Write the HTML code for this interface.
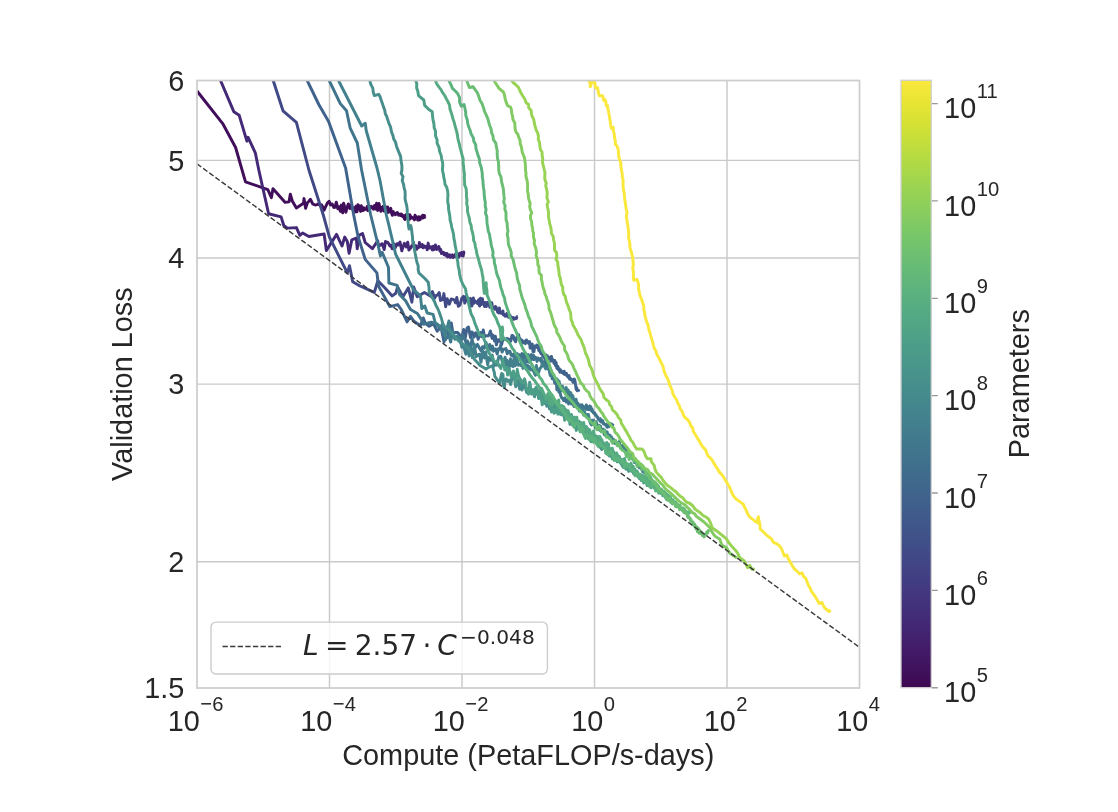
<!DOCTYPE html>
<html><head><meta charset="utf-8"><title>Validation Loss vs Compute</title>
<style>html,body{margin:0;padding:0;background:#fff;}svg{display:block;}text{font-family:"Liberation Sans",sans-serif;fill:#262626;}.m{font-family:"DejaVu Sans",sans-serif;}</style></head><body>
<svg width="1118" height="812" viewBox="0 0 1118 812">
<rect width="1118" height="812" fill="#fff"/>
<defs><clipPath id="ax"><rect x="197.0" y="80.5" width="662.5" height="607.5"/></clipPath>
<linearGradient id="cb" x1="0" y1="0" x2="0" y2="1"><stop offset="0.0000" stop-color="#fae83d"/><stop offset="0.0156" stop-color="#f3e739"/><stop offset="0.0312" stop-color="#ebe535"/><stop offset="0.0469" stop-color="#e2e433"/><stop offset="0.0625" stop-color="#dae234"/><stop offset="0.0781" stop-color="#d1e036"/><stop offset="0.0938" stop-color="#c8df39"/><stop offset="0.1094" stop-color="#bfdd3d"/><stop offset="0.1250" stop-color="#b7db42"/><stop offset="0.1406" stop-color="#aed946"/><stop offset="0.1562" stop-color="#a6d74b"/><stop offset="0.1719" stop-color="#9ed450"/><stop offset="0.1875" stop-color="#96d255"/><stop offset="0.2031" stop-color="#8fcf5a"/><stop offset="0.2188" stop-color="#88cd5f"/><stop offset="0.2344" stop-color="#81ca63"/><stop offset="0.2500" stop-color="#7ac768"/><stop offset="0.2656" stop-color="#74c46c"/><stop offset="0.2812" stop-color="#6fc070"/><stop offset="0.2969" stop-color="#6abd73"/><stop offset="0.3125" stop-color="#65ba77"/><stop offset="0.3281" stop-color="#61b67a"/><stop offset="0.3438" stop-color="#5db37d"/><stop offset="0.3594" stop-color="#59af7f"/><stop offset="0.3750" stop-color="#56ac82"/><stop offset="0.3906" stop-color="#53a884"/><stop offset="0.4062" stop-color="#51a585"/><stop offset="0.4219" stop-color="#4ea187"/><stop offset="0.4375" stop-color="#4c9d88"/><stop offset="0.4531" stop-color="#4b9a8a"/><stop offset="0.4688" stop-color="#49968b"/><stop offset="0.4844" stop-color="#48928b"/><stop offset="0.5000" stop-color="#468e8c"/><stop offset="0.5156" stop-color="#458b8c"/><stop offset="0.5312" stop-color="#44878d"/><stop offset="0.5469" stop-color="#43838d"/><stop offset="0.5625" stop-color="#42808d"/><stop offset="0.5781" stop-color="#427c8d"/><stop offset="0.5938" stop-color="#41788d"/><stop offset="0.6094" stop-color="#40758d"/><stop offset="0.6250" stop-color="#40718d"/><stop offset="0.6406" stop-color="#3f6d8d"/><stop offset="0.6562" stop-color="#3f698c"/><stop offset="0.6719" stop-color="#3f668c"/><stop offset="0.6875" stop-color="#3f628c"/><stop offset="0.7031" stop-color="#3f5e8b"/><stop offset="0.7188" stop-color="#3f5a8b"/><stop offset="0.7344" stop-color="#3f568a"/><stop offset="0.7500" stop-color="#405289"/><stop offset="0.7656" stop-color="#404d88"/><stop offset="0.7812" stop-color="#414987"/><stop offset="0.7969" stop-color="#414585"/><stop offset="0.8125" stop-color="#424084"/><stop offset="0.8281" stop-color="#423c82"/><stop offset="0.8438" stop-color="#43377f"/><stop offset="0.8594" stop-color="#43337c"/><stop offset="0.8750" stop-color="#432e79"/><stop offset="0.8906" stop-color="#432976"/><stop offset="0.9062" stop-color="#432572"/><stop offset="0.9219" stop-color="#43206d"/><stop offset="0.9375" stop-color="#421b68"/><stop offset="0.9531" stop-color="#411663"/><stop offset="0.9688" stop-color="#40125e"/><stop offset="0.9844" stop-color="#3f0d58"/><stop offset="1.0000" stop-color="#3e0852"/></linearGradient></defs>
<path d="M329.50 80.5 V688.0 M462.00 80.5 V688.0 M594.50 80.5 V688.0 M727.00 80.5 V688.0 M197.0 160.36 H859.5 M197.0 258.09 H859.5 M197.0 384.10 H859.5 M197.0 561.69 H859.5" stroke="#c9c9c9" stroke-width="1.45" fill="none"/>
<g clip-path="url(#ax)" fill="none" stroke-width="2.95" stroke-linejoin="round" stroke-linecap="butt">
<polyline points="197.0,91.0 223.1,124.2 235.6,147.5 245.5,181.8 267.8,189.6 271.4,197.6 273.0,188.7 285.0,202.3 289.0,201.9 290.3,194.3 292.4,201.2 296.4,208.0 303.5,203.3 304.0,198.6 305.6,208.3 307.5,202.6 308.7,201.5 310.5,199.3 312.7,203.9 315.1,205.0 316.9,204.6 318.5,203.9 319.8,205.3 321.5,204.8 323.1,207.8 324.1,210.2 325.3,207.4 327.3,203.1 329.1,201.3 330.5,204.9 332.1,204.0 333.9,207.5 335.0,207.4 336.3,202.2 337.9,208.8 339.2,206.8 340.4,211.4 341.3,205.1 342.7,212.8 343.6,203.2 344.9,207.6 345.9,212.2 347.1,207.3 348.4,203.9 349.9,208.5 351.3,205.0 352.4,209.2 353.9,207.8 355.0,212.1 356.0,206.2 357.0,211.7 357.9,204.7 359.2,206.3 360.6,211.4 361.3,205.8 361.9,209.2 363.0,210.6 363.7,207.7 364.5,209.7 365.5,208.7 366.4,209.2 367.1,206.5 367.9,210.6 369.1,207.1 370.2,208.5 371.3,206.4 372.6,207.3 373.5,209.1 374.5,205.5 375.5,209.1 376.6,203.3 377.7,210.4 378.5,205.5 379.0,203.5 380.2,208.5 380.8,211.3 381.7,207.5 382.4,209.5 383.0,206.5 383.9,210.9 385.0,209.3 385.4,206.5 386.4,213.2 387.0,207.5 387.7,207.1 388.6,212.2 389.5,210.9 390.0,210.4 390.8,208.4 391.5,212.9 392.3,215.3 393.3,211.6 393.7,212.9 394.6,213.8 395.4,214.8 396.0,213.4 396.6,212.9 397.3,212.5 398.2,213.9 398.6,215.2 399.5,214.3 400.0,214.2 400.5,215.6 401.3,214.0 402.2,214.9 402.8,216.8 403.5,216.1 403.9,215.7 404.5,218.9 404.9,219.5 405.3,216.1 406.0,214.7 406.7,217.9 407.4,217.2 407.9,216.6 408.5,219.8 409.0,214.8 409.5,219.3 410.0,214.9 410.6,218.4 411.0,216.8 411.4,218.0 412.0,217.2 412.8,218.1 413.3,218.2 413.7,218.8 414.5,219.9 415.0,215.3 415.5,217.3 415.9,216.4 416.6,217.4 417.3,217.7 417.7,220.0 418.1,217.2 418.5,216.8 419.2,220.0 419.7,217.0 420.1,219.6 420.6,217.2 421.0,217.9 421.4,218.0 421.9,216.6 422.2,217.9 422.7,215.3 423.3,217.9 423.8,216.8 424.4,215.6 425.0,217.1 425.3,216.8" stroke="#400e5a"/>
<polyline points="220.5,80.5 233.8,111.7 239.2,115.3 246.9,141.2 248.1,137.3 255.3,152.8 258.8,170.0 268.6,213.8 281.1,216.9 283.8,225.5 287.4,228.1 296.4,227.6 299.9,235.3 302.6,233.0 308.9,236.5 324.1,234.0 326.4,250.5 336.6,234.4 342.0,246.0 344.7,237.1 347.3,241.5 349.1,253.2 351.8,239.8 356.3,238.0 357.2,248.7 359.0,235.3 362.5,233.5 365.2,242.5 372.4,248.7 377.7,240.7 378.5,246.1 379.8,245.5 382.2,243.7 384.2,249.5 385.5,241.5 388.0,242.6 389.8,245.9 390.8,245.0 392.2,248.8 393.9,243.8 394.9,248.5 397.0,243.7 398.1,245.0 400.0,242.1 401.8,250.8 402.8,247.3 404.4,243.3 406.1,246.9 407.7,242.2 408.9,250.0 410.6,248.1 411.6,246.1 412.4,245.6 413.4,242.2 414.7,249.7 415.9,245.7 416.8,249.2 417.5,247.4 418.7,247.4 419.4,242.4 420.2,246.8 421.3,246.8 422.1,244.4 423.2,247.8 424.1,245.8 425.4,247.1 426.5,246.2 427.2,249.8 428.2,243.1 428.8,248.3 429.6,246.5 430.4,247.6 431.2,246.9 432.2,249.9 433.2,246.3 433.9,249.7 434.7,248.7 435.4,245.0 436.0,246.8 436.7,249.6 437.5,247.2 438.1,248.5 438.9,246.5 440.0,251.2 440.7,249.4 441.6,253.6 442.2,252.3 442.6,252.7 443.1,252.9 443.6,252.3 444.1,254.8 444.9,253.3 445.8,253.7 446.5,256.0 446.9,253.4 447.4,254.4 447.9,256.9 448.5,256.1 449.1,255.0 449.6,254.8 450.3,257.4 450.9,255.6 451.6,256.7 452.4,254.9 453.1,257.6 453.7,256.8 454.3,255.6 455.0,256.3 455.8,253.6 456.5,255.2 457.0,257.7 457.5,254.7 458.0,254.1 458.7,257.3 459.2,254.9 459.8,253.4 460.4,253.7 461.1,255.3 461.6,252.4 462.3,255.8 462.7,254.0 463.2,256.0 463.8,252.0 463.8,254.0" stroke="#432976"/>
<polyline points="273.2,80.5 283.0,110.8 296.4,122.4 308.9,170.0 323.3,215.0 329.4,237.1 347.3,272.9 349.5,265.7 352.7,281.8 360.0,286.0 374.3,292.4 377.9,280.7 385.0,288.0 392.2,295.9 395.8,293.3 397.6,287.0 402.9,296.8 408.3,287.9 411.9,302.2 413.7,287.0 417.2,296.8 424.4,292.4 431.6,296.8 432.5,291.6 434.7,298.2 435.9,295.6 437.4,295.1 439.2,292.6 440.5,300.4 442.8,299.4 443.9,293.6 445.7,306.7 447.2,298.8 449.3,304.2 451.2,299.0 453.2,299.4 454.3,300.1 455.6,302.8 456.8,297.5 458.3,306.3 460.0,304.8 461.8,298.2 463.5,296.4 464.8,303.1 466.1,296.6 466.8,300.2 468.2,301.6 469.0,300.8 469.7,306.2 470.4,298.4 471.9,306.0 473.4,297.9 474.0,303.2 475.0,300.9 476.3,302.0 477.6,303.7 478.6,299.8 479.6,306.0 480.5,298.2 481.6,304.6 482.5,298.8 483.0,303.2 484.0,302.7 484.6,306.5 485.3,302.5 486.3,306.6 487.5,302.5 488.3,304.8 488.9,302.2 489.8,307.2 490.3,302.4 491.2,306.1 491.8,302.7 492.5,307.7 493.2,307.8 493.9,308.0 494.7,309.2 495.4,306.5 496.0,306.9 496.9,309.6 497.6,312.2 498.2,309.1 498.8,312.9 499.4,308.0 499.9,312.9 500.8,313.2 501.7,312.2 502.2,313.5 502.9,310.9 503.4,314.9 503.9,314.2 504.3,314.7 505.2,316.3 505.8,314.5 506.3,315.6 506.9,313.5 507.4,316.1 508.2,315.7 508.6,317.3 509.4,315.9 510.1,315.2 510.4,317.4 510.9,317.2 511.5,319.5 511.8,317.7 512.2,319.9 512.9,317.5 513.4,319.3 514.0,318.3 514.5,319.0 515.0,318.1 515.5,318.6 516.1,318.6 516.5,318.2 517.0,316.7 517.5,317.0" stroke="#414987"/>
<polyline points="307.2,80.5 318.8,104.5 328.6,121.5 345.6,168.0 353.7,215.0 358.0,236.2 365.2,259.4 376.9,272.9 378.6,286.3 389.8,306.6 397.7,304.6 401.2,309.5 407.1,321.8 410.5,316.4 414.0,321.3 420.4,325.8 423.3,317.9 425.3,323.3 429.2,326.3 433.6,323.8 437.1,331.2 441.0,327.2 444.0,342.0 445.5,331.2 446.5,327.2 447.9,333.7 449.8,333.0 451.3,323.0 452.8,332.5 455.3,332.5 457.6,332.4 459.6,335.0 461.8,337.0 463.7,329.4 465.0,339.3 467.1,327.9 468.5,327.0 470.5,337.6 471.9,332.0 473.2,333.5 474.2,337.0 475.7,332.8 477.0,334.0 478.1,339.3 479.3,335.8 480.8,332.6 481.7,336.7 483.3,329.9 484.4,336.6 486.0,335.7 487.8,335.9 488.9,335.3 490.4,330.9 492.0,338.2 492.9,335.1 494.6,341.0 495.4,336.2 496.4,344.9 497.2,342.4 498.0,339.7 498.9,341.0 500.0,339.5 501.6,344.7 502.6,340.5 503.7,338.5 504.8,339.4 506.2,339.3 507.0,338.3 507.8,339.2 508.5,339.1 509.6,342.2 510.8,340.9 512.0,335.4 513.3,336.1 514.6,340.2 515.7,341.8 516.7,337.2 518.0,336.4 518.6,334.7 519.2,337.8 519.9,338.4 520.6,339.8 521.5,340.9 522.1,340.2 522.6,343.0 523.7,342.8 524.7,341.2 525.4,343.7 526.5,340.0 527.0,340.8 527.9,342.6 528.6,343.4 529.5,341.5 530.1,348.0 530.8,346.1 531.6,348.1 532.2,344.0 533.0,351.6 534.0,351.5 534.6,345.9 535.7,347.3 536.7,345.0 537.2,347.2 538.3,345.4 538.7,350.5 539.6,349.2 540.1,351.7 541.0,353.6 541.8,352.2 542.8,356.2 543.8,353.7 544.6,358.6 545.1,358.1 545.6,354.6 546.1,355.1 546.7,359.8 547.3,355.8 548.3,358.7 549.0,357.9 549.5,357.8 550.3,357.1 550.8,361.3 551.5,356.5 552.4,360.4 553.1,359.9 554.0,363.5 554.8,360.4 555.6,365.8 556.1,362.5 556.9,368.4 557.5,367.4 557.9,366.3 558.5,369.8 559.4,368.8 559.8,372.2 560.6,369.9 561.1,371.0 561.9,372.5 562.7,372.0 563.5,373.7 564.2,371.2 564.7,374.4 565.1,372.7 565.5,374.2 566.3,373.2 567.0,376.2 567.7,375.9 568.4,377.5 569.0,375.4 569.5,379.0 569.9,377.8 570.5,379.6 571.0,379.0 571.7,380.2 572.4,379.9 573.1,382.4 573.7,380.2 574.3,379.0 574.9,380.5 575.6,385.0 576.2,389.6 576.6,387.5 577.3,390.8 577.7,390.5 578.2,390.0 578.7,390.8 578.7,391.5" stroke="#3f638c"/>
<polyline points="329.2,80.5 340.3,103.6 346.5,110.8 350.1,127.8 357.3,143.0 361.6,170.0 370.7,215.0 377.7,243.3 380.4,255.9 382.2,252.3 388.5,267.5 388.9,283.0 397.2,285.4 399.7,294.8 405.6,300.7 410.5,309.5 417.4,313.5 421.3,319.4 423.3,324.3 431.2,322.3 435.1,323.3 439.0,327.2 440.0,328.6 442.7,323.5 445.3,340.0 447.5,336.6 448.8,335.0 450.7,342.0 452.2,330.2 453.5,333.6 454.8,338.1 457.1,338.6 458.4,336.9 460.8,342.9 462.7,335.0 465.0,339.7 466.4,343.7 467.4,340.9 469.2,345.2 470.5,347.4 472.1,338.4 473.0,344.3 474.0,345.0 475.9,346.8 477.5,344.4 479.5,348.2 481.2,351.1 482.5,346.7 484.2,348.2 486.1,342.5 487.9,351.2 489.7,344.5 491.5,350.1 492.5,346.1 493.5,351.2 494.3,349.2 495.6,348.9 497.2,354.1 498.4,348.8 499.7,349.3 500.5,345.5 502.1,352.1 503.2,349.5 504.4,349.3 505.9,348.5 507.3,353.8 508.3,351.2 509.9,351.3 511.1,355.0 512.1,355.8 513.5,354.0 514.8,360.4 516.1,355.1 517.2,353.6 518.4,360.1 519.6,354.7 520.7,357.8 522.0,353.6 523.3,359.5 524.6,353.2 525.9,354.3 527.2,361.9 528.2,354.5 529.2,362.3 530.4,360.6 531.4,354.5 532.3,359.2 533.4,354.9 534.1,359.7 535.2,357.1 535.8,358.7 536.4,357.8 537.1,361.4 537.9,358.0 538.9,358.7 539.8,359.1 540.6,361.0 541.2,358.2 541.8,362.5 543.0,364.5 543.8,363.9 544.4,361.2 545.3,360.6 546.1,363.8 546.6,367.8 547.2,364.0 548.3,368.2 549.0,369.0 549.8,372.6 550.4,373.1 551.3,370.7 552.1,378.7 552.9,375.4 553.5,377.0 554.6,382.7 555.6,383.8 556.3,381.7 556.9,389.8 557.7,385.6 558.2,387.5 558.9,392.0 559.7,391.5 560.4,394.1 561.0,396.3 562.0,398.4 562.9,398.5 563.7,400.6 564.7,398.0 565.3,399.5 566.3,402.1 567.2,399.7 568.1,401.0 568.6,404.0 569.2,401.6 570.0,401.3 570.8,402.3 571.6,404.0 572.6,400.8 573.1,403.2 574.0,406.5 574.5,403.4 575.2,405.0 575.7,404.0 576.3,405.2 576.7,405.0 577.2,407.9 577.8,403.1 578.4,406.1 579.1,404.7 580.0,407.5 580.7,405.1 581.5,406.8 582.0,404.8 582.4,408.3 583.2,406.4 583.6,407.3 584.1,408.1 584.9,406.8 585.6,409.2 586.3,405.0 586.8,406.0 587.2,409.6 587.7,406.5 588.3,409.2 588.7,409.1 589.3,409.7 589.9,405.9 590.5,409.2 590.8,406.7 591.4,408.8 591.8,411.3 592.3,409.5 592.7,411.8 593.3,412.8 593.7,412.2 594.2,413.7 594.7,412.7 595.5,415.2 596.2,415.0 596.8,416.6 597.5,417.6 597.8,417.0 598.2,419.2 598.7,418.6 599.1,419.2 599.6,420.4 600.3,418.7 600.7,421.9 601.3,420.0 602.1,422.3 602.6,420.7 603.1,421.9 603.5,424.1 603.8,423.1 604.3,424.1 605.1,424.4 605.6,425.4 606.0,425.3 606.6,424.4 607.0,427.3 607.5,425.2 608.1,425.3 608.8,426.8 609.2,424.7 609.6,425.3 610.1,423.5 610.4,425.5 611.0,424.1 611.3,424.9 611.7,424.0 612.1,424.6 612.6,425.1 612.9,423.7" stroke="#40748d"/>
<polyline points="338.5,80.5 361.7,126.0 365.3,123.3 366.2,130.5 377.0,168.0 380.0,180.5 386.3,215.0 388.5,223.7 395.6,254.1 408.5,280.0 413.5,289.8 420.4,295.7 421.8,308.5 424.8,306.0 427.2,313.0 433.1,314.4 435.1,322.3 441.0,327.2 445.0,336.0 448.9,321.0 450.0,333.0 451.0,338.6 452.6,331.9 454.9,339.3 457.2,336.0 459.6,337.3 461.8,347.3 463.7,346.1 465.8,354.2 467.4,344.7 469.1,356.0 470.5,346.3 472.4,357.8 474.3,344.1 476.1,356.6 478.1,354.6 479.5,354.2 481.0,362.2 482.6,350.7 484.5,358.1 485.6,352.0 487.7,364.7 488.7,357.5 490.7,360.3 492.2,355.1 494.3,365.9 495.7,363.2 496.9,365.1 498.8,356.6 500.7,356.2 502.4,361.8 503.4,362.0 505.1,357.2 506.0,365.4 507.1,360.3 509.0,369.0 510.5,358.7 511.8,365.8 513.0,366.6 514.1,357.7 515.3,365.7 516.4,358.3 518.2,365.2 519.0,363.9 520.6,365.5 522.1,359.6 522.9,368.4 524.6,360.3 526.2,369.3 527.4,365.2 528.7,369.0 529.6,366.6 530.9,369.9 532.5,369.4 534.0,371.9 535.3,375.3 536.4,365.5 537.8,374.5 538.9,371.5 540.0,368.3 541.4,367.0 542.3,362.8 543.3,364.4 544.3,366.3 545.7,368.9 546.8,368.0 547.5,367.1 548.8,369.9 549.5,368.5 550.2,375.5 550.9,371.5 552.0,375.6 552.9,374.7 553.9,376.9 555.0,380.2 556.0,378.5 557.1,378.8 558.1,383.7 559.1,381.1 560.5,388.0 561.6,390.8 562.5,386.1 563.5,389.3 564.2,389.6 565.3,392.4 566.2,387.5 566.9,394.1 568.2,389.9 569.4,396.4 570.4,392.5 571.0,393.2 572.1,399.3 572.9,395.7 573.6,399.6 574.3,405.4 575.0,402.3 576.1,399.2 577.2,405.2 578.0,405.2 579.2,411.0 580.0,411.0 580.6,407.7 581.1,409.2 581.7,410.2 582.5,409.6 583.7,415.1 584.6,411.7 585.3,415.6 586.1,416.3 587.0,417.4 587.6,414.4 588.4,414.4 589.4,420.0 590.5,423.4 591.5,424.9 592.2,420.3 593.3,424.3 593.7,420.3 594.7,422.3 595.2,427.8 596.2,421.7 597.3,426.5 598.0,429.2 599.0,425.3 600.0,430.6 600.5,426.0 601.0,431.2 601.6,429.4 602.6,431.4 603.2,429.1 604.2,434.5 604.7,430.1 605.4,435.4 606.2,432.6 607.1,431.7 607.9,434.9 608.9,435.8 609.9,435.0 610.7,437.8 611.5,436.9 612.4,440.2 613.2,439.0 613.9,439.6 614.4,443.2 615.4,440.6 616.1,443.7 616.9,444.2 617.8,442.9 618.4,445.7 619.3,441.5 619.7,444.2 620.5,447.9 621.2,445.7 621.7,447.3 622.2,446.5 622.6,445.9 623.2,444.7 623.9,449.1 624.4,447.5 625.2,451.1 625.8,448.9 626.3,452.7 627.0,450.5 627.7,450.1 628.5,453.6 629.0,454.5 629.6,456.2 630.2,456.1 630.9,455.2 631.7,457.7 632.3,457.4 632.7,459.5 633.2,458.9 633.9,459.2 634.4,462.6 635.1,461.1 635.5,461.3 636.3,462.9 637.1,465.4 637.5,464.4 638.1,464.0 638.5,465.3 638.9,464.8 639.3,467.8 640.0,465.7 640.5,467.6 640.9,467.0 641.3,469.2 642.0,467.6 642.6,471.5 643.2,469.2 643.8,472.6 644.3,469.6 644.7,471.2 645.4,473.6 646.2,472.8 646.8,474.9 647.2,475.6 647.8,474.2 648.3,476.3 649.0,476.9 649.6,478.9 650.4,476.8 650.9,480.1 651.2,478.8 651.6,480.8 652.2,481.8 652.8,481.6 653.4,481.3 654.2,483.5 654.9,483.4 655.2,483.8 655.5,484.5 656.1,484.1 656.5,485.2 656.9,486.6 657.4,485.1 657.8,487.3 658.3,486.4 658.9,489.2 659.7,489.4 660.4,490.4 661.0,491.2 661.4,490.8 661.8,490.7 662.1,493.1 662.7,492.9 663.3,493.0 663.9,494.4 664.4,494.2 664.8,496.2 665.3,495.6 665.8,497.9 666.4,499.1 666.5,498.0" stroke="#42808d"/>
<polyline points="369.8,80.5 370.8,84.4 372.8,88.1 373.2,91.8 374.3,95.6 378.7,94.3 380.0,96.5 381.2,100.2 382.2,103.0 383.4,106.6 384.6,109.7 385.4,114.0 386.6,116.1 387.8,119.9 388.9,123.3 390.5,126.9 391.6,132.2 393.0,135.6 393.6,138.7 395.6,142.3 396.5,146.2 397.7,149.4 399.0,152.6 400.6,156.4 401.0,160.6 401.9,165.4 401.9,170.0 401.2,173.4 403.0,176.8 402.2,180.6 403.6,184.4 404.1,188.0 405.0,190.9 405.2,195.1 405.0,198.6 405.8,202.1 406.7,205.6 407.2,209.4 407.3,212.9 407.6,217.0 408.0,221.1 408.4,225.2 409.0,229.0 410.8,225.5 411.6,229.6 412.0,233.0 412.5,237.1 412.7,241.0 413.8,244.9 414.4,248.7 415.0,252.5 415.6,255.5 416.3,259.2 417.0,262.4 418.2,265.8 418.2,269.9 418.9,272.9 422.2,276.0 424.9,278.5 427.8,281.8 428.2,282.0 429.0,287.2 429.2,291.8 430.7,294.9 432.9,298.8 434.6,301.7 436.0,305.4 437.4,308.0 439.0,311.5 440.4,315.6 441.6,319.0 442.7,323.4 445.0,327.2 448.3,329.2 450.9,332.2 453.9,335.7 455.9,338.1 458.7,341.0 462.0,343.3 465.2,345.7 468.6,348.9 470.6,352.6 472.8,356.5 475.0,360.0 477.7,362.7 480.0,365.5 486.0,369.0 489.7,366.8 492.8,365.5 493.2,368.9 494.4,372.8 494.8,376.3 497.3,379.9 499.7,383.2 500.6,378.2 501.7,373.4 503.0,374.6 503.2,379.0 503.1,383.5 504.3,387.8 504.8,383.3 506.1,379.0 507.9,381.3 509.2,380.0 510.6,384.6 511.5,380.7 511.8,377.1 513.1,373.1 514.2,373.4 514.4,377.8 515.1,382.4 515.7,386.8 517.9,380.3 518.6,384.3 519.7,389.2 520.8,384.6 520.7,379.7 521.0,385.1 522.0,390.0 523.7,384.6 525.0,386.3 526.6,392.5 528.6,393.5 528.8,389.2 529.5,386.2 529.7,382.3 529.9,385.9 531.0,389.3 531.4,393.2 533.1,392.9 534.6,396.8 535.5,392.3 536.0,387.5 537.4,390.2 538.0,394.5 538.9,398.4 539.7,394.2 540.4,389.8 541.3,393.8 541.5,398.6 542.9,396.3 543.8,400.4 545.3,400.6 546.9,406.3 546.7,401.4 548.1,396.1 548.5,400.3 549.2,404.8 549.6,409.1 549.8,404.8 550.5,401.3 550.7,397.3 551.2,400.7 551.3,405.1 551.5,408.3 551.5,412.0 552.0,408.0 552.2,404.4 552.4,399.9 552.5,403.7 553.3,407.0 554.4,400.5 554.7,404.1 555.6,408.6 555.6,412.6 557.0,407.5 556.8,402.7 558.1,407.4 559.4,413.0 560.6,411.2 561.2,414.8 561.9,410.3 562.6,414.6 563.9,414.4 564.6,417.8 565.3,419.2 566.7,415.6 567.3,417.9 568.1,418.8 569.4,418.7 570.0,424.4 571.3,421.7 572.4,420.4 573.4,424.3 574.5,422.5 575.7,419.1 576.8,425.3 577.7,428.5 578.2,426.1 579.1,424.8 579.9,422.8 580.7,429.2 581.3,427.8 582.4,425.7 583.2,431.1 584.0,432.7 585.0,434.2 585.9,432.8 586.9,431.4 587.9,432.9 588.5,438.9 588.8,435.2 589.4,431.4 590.3,435.3 591.1,439.6 591.5,439.8 592.5,435.8 593.4,438.9 594.0,441.9 594.7,439.3 595.6,442.0 596.3,439.6 597.2,444.2 597.9,440.4 598.4,443.9 599.2,440.4 599.9,445.6 600.5,445.2 601.2,447.1 601.7,449.5 602.5,447.2 603.1,444.7 603.8,448.2 604.5,445.2 605.3,448.0 605.8,453.2 606.2,448.5 606.8,450.5 607.5,451.8 608.2,450.9 608.7,448.9 609.5,454.6 610.0,453.7 610.8,451.4 611.3,455.1 611.8,457.0 612.3,454.6 612.8,456.0 613.6,455.9 614.3,456.5 615.0,457.6 615.4,454.4 615.8,459.5 616.5,458.0 616.9,459.3 617.4,456.6 618.0,460.4 618.7,458.8 619.2,461.8 619.9,459.5 620.3,462.8 620.6,461.2 621.1,460.6 621.5,462.9 621.8,461.2 622.1,461.8 622.4,463.0" stroke="#468d8c"/>
<polyline points="415.8,80.5 416.8,83.9 416.6,87.7 417.8,91.3 418.5,95.6 423.8,100.0 424.7,105.4 428.6,109.3 432.2,111.7 432.5,115.5 433.0,119.8 433.9,123.7 434.2,127.8 435.6,131.5 435.5,135.8 437.1,140.1 437.1,143.1 439.0,147.3 439.6,151.5 441.1,155.2 441.7,159.0 442.7,163.1 442.7,166.5 442.4,170.0 443.3,173.8 443.7,176.9 444.6,180.8 445.0,184.3 446.8,187.5 447.7,191.5 448.0,195.2 447.7,198.6 447.7,201.9 448.5,205.5 448.6,209.4 449.3,213.0 449.9,216.6 450.1,220.1 451.2,224.1 451.7,227.4 452.7,230.7 453.6,234.7 453.8,237.9 454.7,241.9 455.1,245.4 455.8,248.7 456.5,252.3 456.6,255.9 457.3,259.5 457.9,262.8 458.2,266.2 459.2,270.1 459.5,273.7 460.3,277.3 461.4,281.0 462.9,284.5 465.6,289.0 466.1,292.8 467.0,295.9 468.4,299.6 468.6,303.2 469.2,306.1 470.1,310.0 471.2,314.1 473.3,318.0 474.5,321.9 475.5,324.8 477.2,328.9 478.3,331.9 479.4,335.1 483.3,335.1 483.9,339.1 485.7,343.0 486.7,346.7 488.3,350.9 489.6,353.9 492.3,357.3 493.5,360.4 496.0,363.0 497.0,361.0 499.3,366.2 500.9,368.5 502.0,364.1 502.8,359.5 503.3,363.1 504.4,366.4 504.7,369.9 506.1,367.4 507.1,371.3 507.6,375.1 508.4,371.7 508.9,368.1 510.3,373.0 511.4,377.1 513.4,371.0 514.2,375.1 515.4,379.4 515.4,383.2 515.7,379.9 516.8,376.4 517.0,372.3 517.2,369.3 518.3,375.1 520.5,380.6 522.4,383.0 524.5,378.8 525.7,383.3 526.4,388.1 528.5,394.2 529.3,389.5 530.0,384.3 530.9,389.4 531.5,394.1 533.4,389.6 534.6,394.8 535.8,388.2 537.6,391.7 538.7,398.2 539.5,394.1 540.6,390.0 540.2,393.9 541.3,397.6 541.7,401.7 542.2,404.7 542.2,401.1 543.4,397.6 544.6,403.5 545.8,397.5 546.9,402.8 548.2,400.9 549.8,406.4 550.6,402.3 550.6,396.8 551.1,400.0 550.6,403.4 551.4,407.9 551.5,411.0 552.6,408.6 553.3,408.1 554.1,413.3 555.5,409.9 557.1,407.5 557.9,414.2 558.8,410.0 560.0,414.2 561.3,408.9 562.4,414.9 563.3,411.5 564.0,412.9 564.2,416.6 564.7,420.3 565.3,416.8 565.2,412.7 565.7,409.5 566.3,413.8 566.8,418.0 567.6,411.1 568.3,415.0 568.8,419.4 570.0,419.7 571.4,414.4 572.1,419.5 572.3,424.9 573.7,422.9 574.7,417.3 575.5,422.2 575.5,426.0 576.3,430.4 577.0,426.9 577.1,423.4 578.2,422.7 579.3,421.4 580.1,426.9 580.3,431.7 581.3,430.6 582.1,429.1 583.0,432.9 584.1,429.5 584.8,433.4 585.1,437.3 585.2,432.0 586.2,427.5 587.4,428.4 588.1,429.1 588.9,431.4 589.2,435.4 589.9,439.3 591.2,441.7 591.4,437.9 592.2,434.0 592.4,437.4 592.8,441.5 593.9,440.5 594.8,440.6 595.7,435.8 596.0,439.5 596.8,443.4 597.5,444.3 598.4,438.4 599.1,445.3 599.6,447.3 600.3,444.5 601.1,442.2 601.6,446.2 602.6,444.7 603.1,447.4 603.9,442.9 604.9,444.7 605.9,448.8 606.9,451.5 607.5,453.2 608.0,454.3 608.7,453.5 609.4,456.0 610.4,451.0 611.1,451.2 611.9,454.7 612.4,458.9 613.2,455.3 613.7,451.6 614.6,457.3 615.1,454.4 616.1,458.3 616.9,455.9 617.3,461.9 618.0,456.7 618.8,459.4 619.3,457.1 620.0,460.2 620.6,459.8 621.1,464.2 621.7,459.3 622.3,466.0 622.7,461.9 623.2,467.4 623.7,462.0 624.3,466.8 625.1,465.3 625.6,468.6 626.1,469.1 626.7,465.4 627.3,467.1 628.0,465.3 628.6,471.4 629.0,467.3 629.8,470.0 630.3,465.9 630.7,469.4 631.1,471.1 631.6,467.0 632.3,471.5 633.0,470.8 633.7,473.9 634.5,471.9 635.1,473.4 635.9,470.7 636.5,474.9 636.9,471.8 637.4,476.0 638.0,475.2 638.4,477.2 638.9,476.1 639.6,478.8 640.1,476.3 640.8,478.6 641.2,480.4 641.9,475.8 642.5,479.7 643.0,479.0 643.7,483.1 644.4,478.9 645.0,481.9 645.6,479.0 646.0,482.6 646.4,480.1 647.0,485.6 647.3,481.4 647.9,482.1 648.5,485.0 649.0,485.5 649.6,483.5 650.1,484.4 650.7,485.8 651.3,487.7 651.8,485.5 652.0,487.0" stroke="#4d9e88"/>
<polyline points="435.5,80.5 436.5,83.5 438.8,86.9 441.0,89.6 442.3,92.2 444.7,95.5 446.4,98.9 448.0,101.8 449.6,105.2 449.9,108.7 451.0,112.0 452.1,115.4 453.0,118.9 454.1,122.0 455.0,125.6 456.0,129.3 456.9,132.2 457.5,136.1 458.3,140.4 459.3,143.8 460.0,147.4 461.0,150.8 462.0,155.0 463.2,159.0 463.1,162.9 463.6,166.5 463.8,170.0 464.5,173.8 464.3,177.9 464.6,181.2 464.6,184.8 466.1,188.3 466.5,192.6 466.4,196.2 467.0,199.9 466.7,203.7 467.6,207.8 467.4,210.9 468.3,214.7 469.4,218.7 469.8,222.1 471.2,225.5 471.4,228.7 472.6,232.8 473.4,236.7 473.6,240.4 474.8,242.9 475.4,246.8 476.2,249.8 477.0,254.5 478.1,257.7 479.3,262.3 480.4,266.3 481.6,270.0 482.2,273.6 483.0,277.8 483.2,282.0 483.5,285.8 483.8,289.2 484.4,293.4 485.1,289.9 485.9,286.1 486.2,282.7 486.3,286.4 487.0,291.0 487.1,295.2 488.9,299.4 490.0,302.5 491.3,306.7 492.4,311.1 494.0,314.9 496.4,318.7 497.8,323.0 499.7,326.8 500.5,331.1 500.8,336.3 501.5,340.0 501.5,335.4 501.8,331.4 502.4,327.0 502.8,330.6 502.3,334.8 503.5,338.0 508.5,341.6 510.6,344.8 511.9,347.6 514.2,350.7 515.8,353.7 518.5,356.9 519.8,360.1 522.0,362.7 523.9,366.2 526.5,369.4 528.4,372.4 530.1,375.1 532.4,378.2 534.8,380.8 536.6,383.7 538.5,386.1 540.8,389.4 541.5,388.3 544.1,394.1 546.0,398.9 548.1,393.5 548.7,397.3 549.1,400.4 549.8,404.1 550.5,400.5 551.1,396.9 551.8,401.1 552.4,404.9 554.6,399.5 556.7,405.5 558.7,400.0 559.1,404.0 559.8,407.6 561.8,405.5 564.0,406.9 565.5,413.1 567.0,417.0 568.1,410.7 570.1,417.3 571.6,417.0 572.6,421.3 573.9,417.2 574.9,422.2 576.8,417.2 577.3,420.8 578.2,424.5 580.1,426.7 581.1,422.8 582.5,427.3 583.7,422.5 584.3,427.1 584.5,431.5 586.2,426.4 587.9,432.2 588.7,433.6 589.6,429.6 590.7,434.6 592.1,433.7 593.6,430.9 594.5,436.7 595.6,440.8 596.6,439.2 597.6,436.5 598.4,440.8 598.5,445.0 599.1,440.5 600.0,436.5 600.9,440.6 601.2,445.3 601.9,439.7 602.5,443.3 603.4,446.8 604.1,443.9 605.2,446.6 605.9,444.8 606.8,442.4 607.5,448.4 608.5,443.9 609.2,450.9 609.8,453.1 610.6,448.7 611.6,453.8 612.3,448.3 613.6,453.8 614.9,457.0 615.9,455.5 616.5,452.9 617.6,455.4 618.2,459.5 619.2,456.4 620.1,459.5 621.3,460.3 622.2,463.2 623.1,459.7 623.9,462.5 624.6,458.4 625.3,462.8 626.3,462.9 627.3,467.1 628.5,465.7 629.5,464.6 630.5,467.8 631.1,463.1 631.6,466.9 632.2,471.4 633.1,466.2 633.9,469.5 634.6,468.8 635.6,472.8 636.1,472.5 637.0,471.0 637.6,472.4 638.5,474.7 639.4,477.0 640.4,476.2 640.9,474.6 641.6,478.2 642.5,475.5 643.1,478.2 643.9,476.3 644.5,479.5 645.2,477.4 645.6,481.5 646.2,476.2 647.1,477.5 647.6,480.3 648.3,480.3 649.2,482.5 649.6,479.6 650.1,482.4 651.0,482.7 651.5,486.2 652.3,482.0 652.9,483.5 653.6,485.2 654.1,484.7 654.8,485.4 655.5,486.9 656.1,487.6 656.8,487.9 657.2,486.8 657.9,490.3 658.4,486.6 659.0,488.6 659.7,490.6 660.1,490.2 660.9,493.5 661.3,489.1 662.1,490.9 662.8,495.7 663.3,492.3 663.9,491.4 664.7,496.0 665.2,495.6 665.6,492.9 666.3,498.2 666.7,493.9 667.4,498.0 667.9,495.0 668.3,500.1 668.8,499.8 669.2,497.3 669.6,500.5 670.1,497.8 670.8,502.2 671.3,501.4 671.8,500.1 672.4,503.7 672.9,499.7 673.5,502.2 673.9,502.8 674.3,503.0" stroke="#55aa83"/>
<polyline points="448.9,80.5 450.9,84.7 452.5,88.4 455.5,91.3 457.8,93.8 459.6,97.7 459.6,102.1 461.4,106.3 464.1,104.5 464.9,108.1 465.7,112.1 465.8,115.6 467.3,119.9 467.7,123.3 468.7,126.8 470.2,130.5 471.0,133.6 473.4,138.0 473.8,141.3 475.7,144.8 476.0,148.6 477.1,152.1 478.2,155.9 479.4,159.0 479.7,162.9 481.1,166.9 481.7,170.0 482.3,173.8 482.3,176.9 482.9,180.3 483.1,184.3 483.5,187.4 484.1,191.3 484.2,195.2 484.5,198.1 485.3,202.4 485.2,205.9 486.0,209.2 485.5,213.2 486.7,216.2 486.9,220.0 487.1,223.7 487.7,227.0 488.3,231.2 489.5,234.3 490.0,238.2 490.8,241.5 491.2,245.1 492.2,248.7 493.1,252.4 492.7,255.7 494.2,259.4 494.4,263.0 495.4,266.5 496.0,270.0 496.8,273.9 498.1,277.1 499.5,280.5 500.2,284.7 501.0,287.9 502.2,291.2 503.1,295.0 504.6,298.1 505.1,302.0 506.3,305.6 507.4,308.9 508.6,312.0 509.5,316.1 511.1,319.6 512.4,323.4 513.8,326.8 515.6,330.5 516.9,333.6 518.4,337.8 519.6,341.1 521.1,344.7 522.7,348.2 524.3,351.0 526.7,354.8 528.1,357.5 529.8,361.3 532.1,364.7 533.7,368.0 535.7,371.4 538.1,374.2 539.7,377.4 541.7,379.7 543.4,383.2 546.3,386.4 548.0,389.4 550.1,392.7 552.6,395.7 554.3,399.1 556.6,402.5 558.7,405.5 560.6,408.4 562.8,411.8 565.4,414.7 567.2,418.5 569.4,421.6 570.0,418.2 571.5,421.4 574.0,427.2 575.6,423.3 578.2,423.8 579.1,427.6 580.2,431.8 581.6,426.9 582.7,430.3 583.6,434.1 585.7,438.5 586.7,434.6 587.9,435.4 590.1,440.6 591.7,435.8 593.7,442.3 594.9,438.5 596.8,443.9 598.3,446.4 599.6,442.5 600.5,444.7 602.3,446.5 603.6,448.5 605.1,447.4 606.0,452.2 607.7,454.8 608.9,452.3 610.4,453.8 611.5,451.3 612.6,454.3 614.0,460.3 615.2,456.5 616.0,460.4 617.1,458.2 618.3,461.0 619.9,458.7 620.6,462.2 621.3,461.9 622.4,460.2 623.4,463.9 624.5,467.3 625.5,463.0 626.9,466.5 628.1,464.0 629.1,464.5 630.5,469.6 631.8,469.5 633.1,470.6 634.4,471.3 635.1,475.7 636.4,473.0 637.1,474.8 637.7,476.4 638.8,473.9 639.7,477.5 640.4,474.4 641.4,478.1 642.5,481.0 643.5,478.2 644.1,479.8 644.9,481.2 645.8,479.6 646.7,483.1 647.7,481.6 648.4,485.7 649.4,483.9 650.1,487.1 651.1,483.5 652.1,483.9 652.7,485.9 653.6,487.1 654.1,488.1 655.1,487.7 655.6,491.1 656.4,489.0 656.9,489.4 657.7,488.6 658.7,493.3 659.1,488.7 660.1,492.2 660.8,490.8 661.7,490.8 662.2,491.5 662.8,493.7 663.4,492.3 664.1,492.6 665.1,496.7 665.6,493.1 666.3,497.1 667.2,496.5 667.9,500.0 668.5,497.4 668.9,499.6 669.3,495.9 670.0,500.5 670.4,496.8 671.0,500.1 671.5,501.2 672.1,501.5 672.9,500.8 673.5,503.1 673.9,503.2 674.3,502.4 674.8,504.3 675.6,501.9 676.3,505.4 676.6,503.5 677.0,506.9 677.6,504.5 678.1,505.1 678.5,505.5 679.2,506.8 679.9,505.3 680.4,508.8 681.2,508.0 681.9,510.0 682.3,508.0 682.9,510.5 683.2,507.9 684.0,511.5 684.5,509.2 685.1,510.7 685.6,513.1 686.1,511.3 686.6,513.2 687.0,511.8 687.4,513.5 687.9,512.9 688.2,514.1 688.9,511.7 689.4,512.5 689.8,514.0" stroke="#5db37d"/>
<polyline points="466.8,80.5 467.8,83.5 469.4,87.5 473.0,86.6 475.3,89.9 477.5,92.9 478.8,96.5 480.0,100.2 482.0,103.6 483.6,108.0 484.5,111.4 486.4,115.3 487.9,118.8 488.8,122.5 489.7,125.5 491.2,129.4 491.6,132.6 493.0,136.0 493.4,139.6 495.8,143.1 496.3,146.6 497.2,150.5 497.2,154.7 497.5,158.3 498.4,161.7 498.7,166.2 498.7,170.0 499.3,173.4 501.1,177.3 501.4,180.8 502.1,184.0 503.2,187.9 503.6,191.8 503.9,195.2 504.3,198.6 503.7,202.3 505.1,205.8 504.8,209.0 506.0,212.5 506.0,216.5 506.1,220.0 507.2,223.1 507.3,226.7 508.0,231.0 507.2,234.4 508.0,237.9 508.2,241.4 508.6,245.1 510.1,248.7 511.3,252.6 511.1,255.7 513.0,259.4 513.8,262.9 514.7,266.8 515.6,270.0 516.7,273.3 517.2,278.1 518.3,282.0 519.6,285.6 519.8,289.1 521.0,293.3 522.0,297.2 523.5,301.2 524.8,304.6 525.7,308.4 527.2,312.1 528.3,316.1 529.9,319.4 530.9,322.5 531.7,326.4 533.3,329.3 534.8,332.6 536.8,336.6 537.6,339.2 539.0,342.9 541.4,346.5 542.2,350.4 544.4,353.7 546.2,357.4 547.4,360.7 549.4,364.6 550.2,367.8 551.6,371.6 554.0,375.1 555.6,378.3 557.6,381.9 559.6,385.4 561.4,388.4 564.0,391.8 565.9,394.8 568.3,397.6 570.7,400.3 573.1,402.7 575.0,405.7 577.5,408.2 580.2,410.9 582.9,413.4 586.3,417.1 589.3,419.7 590.9,422.2 594.5,425.2 595.0,422.0 595.7,425.9 596.9,429.8 599.0,426.0 601.4,431.9 602.9,431.6 604.1,430.5 605.5,434.3 606.5,437.2 607.6,436.2 608.7,438.1 610.4,438.9 612.5,443.1 614.3,440.9 615.6,440.5 617.4,445.8 618.6,443.3 620.0,446.3 621.3,449.1 622.4,450.1 623.8,450.8 625.4,452.3 626.5,456.6 628.1,452.0 628.4,455.7 629.2,459.6 630.2,455.8 631.4,458.4 632.9,458.5 634.0,461.3 635.6,458.8 636.7,462.7 637.2,466.6 638.5,462.2 640.1,466.3 641.1,464.2 641.9,469.5 643.1,468.9 644.2,468.4 645.6,472.9 646.4,474.1 647.2,475.8 648.6,473.2 649.7,478.7 650.4,476.9 651.6,480.0 652.9,480.9 654.0,483.7 654.8,481.9 655.6,482.4 656.3,485.5 656.9,484.0 657.7,488.1 659.0,489.7 660.0,488.8 660.6,490.8 661.8,491.3 662.7,492.9 663.8,493.4 664.7,495.1 665.8,495.4 666.9,499.8 667.9,499.2 668.9,500.0 669.7,497.8 670.6,501.6 671.5,502.8 672.2,503.2 673.0,501.7 673.9,503.4 674.8,503.1 675.5,506.5 676.5,503.5 677.4,505.6 677.9,506.8 678.9,505.3 679.7,509.7 680.6,509.3 681.2,508.3 681.9,508.4 682.8,511.0 683.3,509.9 683.9,512.5 684.6,510.1 685.4,511.3 685.8,512.0 686.2,513.7 687.0,512.9 687.5,516.5 688.0,514.6 688.4,517.7 689.1,517.6 690.0,517.9 690.5,520.8 691.1,519.8 691.6,522.2 692.2,522.2 693.0,522.1 693.4,524.1 694.0,525.9 694.8,524.4 695.5,526.6 696.1,529.1 696.8,527.0 697.5,531.7 698.3,528.2 698.9,532.9 699.4,529.9 700.0,531.8 700.3,533.4 700.7,532.8 701.4,531.8 701.7,533.5 702.4,535.6 702.9,534.8 703.4,534.0 704.1,536.9 704.6,535.1 705.1,534.4 705.8,533.9 706.3,534.4 706.8,532.0 707.1,531.9 707.8,532.6 708.3,530.6 708.3,531.9" stroke="#6bbe72"/>
<polyline points="494.1,80.5 495.7,83.2 497.6,86.1 499.0,88.4 503.4,92.0 504.5,95.0 505.1,98.7 506.1,102.1 507.4,105.4 510.6,107.2 511.4,110.0 511.8,113.3 512.7,116.9 512.9,119.5 514.8,122.9 514.9,125.6 515.1,128.7 516.0,132.2 517.7,134.0 518.8,137.5 520.1,140.4 520.2,143.7 521.1,145.9 521.7,148.8 522.2,152.1 523.5,155.3 524.4,157.6 524.9,160.9 525.3,164.0 525.5,167.1 525.5,170.0 526.0,173.2 525.9,176.0 526.9,179.8 527.4,182.2 527.6,185.3 527.6,188.4 527.6,191.3 528.3,194.6 528.5,197.7 529.1,200.2 530.2,203.4 529.7,206.4 530.3,209.7 531.8,212.8 530.5,215.4 530.5,218.5 531.7,222.0 531.8,225.1 532.6,228.1 532.7,230.8 533.5,233.3 533.4,236.9 534.6,240.4 534.1,243.7 535.1,246.2 535.9,248.8 536.5,252.2 536.1,255.2 536.9,258.0 537.7,260.4 537.8,264.5 539.0,267.0 538.9,270.0 539.3,273.0 541.5,275.5 541.3,278.8 542.2,282.6 542.6,285.3 543.5,288.6 544.6,291.2 544.8,293.6 546.3,296.9 547.1,300.0 548.1,302.3 548.9,305.5 549.0,308.8 550.3,311.6 551.4,315.0 552.3,318.5 552.9,320.2 553.9,324.1 555.1,326.8 556.6,329.3 556.8,332.4 558.7,335.1 560.2,338.2 561.1,340.8 562.4,343.1 564.5,346.0 564.6,350.0 565.9,351.9 567.5,354.9 568.3,358.1 569.2,360.6 571.7,363.3 572.9,365.6 573.8,368.1 575.7,371.7 576.6,374.2 578.0,377.1 579.4,380.0 580.7,383.0 583.2,385.1 584.6,388.4 586.5,390.7 589.0,392.6 590.0,396.0 591.7,398.7 593.9,401.0 595.4,403.7 597.0,406.4 599.0,408.6 600.6,411.1 602.8,414.0 604.2,416.7 605.7,418.9 607.8,421.7 610.0,424.1 611.6,426.5 614.0,428.5 615.0,432.1 616.9,433.9 618.7,436.2 619.9,438.9 622.0,441.3 623.6,443.4 625.9,446.2 628.1,448.7 629.7,451.3 632.7,453.7 633.5,456.5 635.2,459.4 637.9,461.4 640.2,464.0 642.8,465.7 644.4,468.2 647.8,469.8 649.6,472.9 652.2,474.0 654.5,476.6 656.7,478.7 658.6,480.9 660.2,482.8 662.6,484.8 664.9,488.2 666.7,490.0 668.9,491.7 671.7,494.1 674.0,496.4 676.6,498.9 679.3,501.4 681.1,502.7 685.1,505.0 687.7,507.7 689.8,509.6 692.1,512.4 694.9,514.1 696.6,516.6 699.4,518.5 702.0,520.5 704.3,522.2 707.2,525.0 709.9,527.7 711.5,531.0 713.5,534.3 715.4,536.6 719.9,539.3 720.8,542.3 722.1,545.4 726.5,547.6 728.2,550.4 729.8,553.2 733.0,555.4 736.9,558.0" stroke="#82ca62"/>
<polyline points="511.5,80.5 513.7,83.0 516.3,85.2 518.6,87.5 520.1,91.2 521.3,93.5 523.1,96.5 525.1,99.5 525.9,102.3 528.5,104.5 528.7,107.6 531.1,110.5 531.5,113.8 532.1,116.2 533.8,119.7 534.3,122.9 535.0,125.9 536.2,130.1 537.6,132.8 538.4,135.9 538.3,139.4 539.5,142.4 539.9,146.3 540.4,149.4 542.1,152.2 542.1,155.1 542.8,159.0 542.5,162.7 543.4,166.1 544.3,170.0 545.0,172.9 544.8,176.0 544.8,179.4 546.2,183.0 545.7,185.7 546.4,188.4 547.2,192.2 547.1,195.1 546.9,197.8 548.4,201.7 547.1,204.6 547.6,207.5 548.2,210.2 548.6,214.2 548.5,217.1 549.2,220.2 549.7,223.7 550.7,227.1 551.3,230.4 551.3,233.0 553.2,236.5 553.6,239.8 554.4,242.8 554.5,246.3 554.6,250.3 556.4,252.5 556.9,255.9 556.0,259.3 557.7,261.8 557.9,265.6 558.5,268.7 559.0,272.2 559.2,275.3 560.3,278.1 560.8,281.2 561.3,284.5 562.7,287.0 562.8,290.6 563.7,294.3 565.2,296.2 565.9,300.0 566.7,302.6 568.2,306.2 569.4,310.0 570.6,312.9 570.8,315.6 571.2,319.8 572.3,322.2 573.0,325.0 575.0,328.4 576.6,331.5 578.0,335.0 579.9,337.7 581.2,339.9 582.4,343.7 583.8,346.5 584.7,349.7 585.3,352.5 586.9,355.9 588.0,358.5 589.0,362.0 589.5,365.2 591.2,368.1 592.5,371.1 593.0,373.9 594.0,376.8 595.5,380.0 597.2,382.9 598.7,386.2 599.7,388.6 601.7,391.6 603.3,393.9 603.8,397.3 606.0,399.5 609.1,401.9 609.5,404.3 611.6,406.9 612.4,409.8 615.1,412.2 617.4,415.0 618.3,417.5 620.8,420.1 621.2,423.0 623.4,426.6 624.6,428.6 626.2,431.1 628.0,434.5 629.6,437.1 630.9,440.3 633.0,442.6 634.2,445.2 636.6,448.9 642.0,448.9 644.1,451.6 645.4,455.6 647.3,458.7 651.0,458.7 651.4,461.8 654.2,465.4 654.9,468.8 656.3,472.1 658.5,474.6 661.2,477.3 662.9,480.2 665.2,482.9 667.6,485.5 671.0,487.9 673.3,490.0 676.2,492.0 677.7,493.9 680.2,496.2 682.9,497.7 684.3,500.0 686.6,502.2 690.0,503.5 693.0,506.0 694.8,508.9 697.7,511.0 700.5,512.9 702.6,515.3 706.3,517.2 708.8,519.4 710.7,523.4 712.1,527.7 715.6,530.2 718.3,532.1 721.0,534.3 723.8,536.6 726.5,538.8 728.3,542.0 731.0,545.4 732.7,547.3 735.6,550.4 737.6,553.2 739.8,557.6 744.3,561.0 746.0,564.4 747.6,567.6 749.8,565.4 752.0,569.3 754.8,569.3" stroke="#98d354"/>
<polyline points="588.7,80.5 590.1,83.3 590.3,86.8 591.7,81.9 594.6,81.9 595.6,87.8 597.6,87.8 598.1,91.2 599.2,95.7 602.5,95.7 603.9,100.6 605.0,99.6 605.9,102.1 606.1,105.5 607.4,105.5 608.0,109.1 608.8,112.7 609.4,116.4 610.1,120.6 610.6,124.2 611.4,128.2 613.3,127.2 613.3,130.7 614.2,134.2 614.5,137.1 615.3,140.6 615.3,144.0 616.9,145.9 618.2,149.2 618.5,153.3 618.7,156.5 619.7,159.7 620.8,163.0 620.9,166.5 621.3,169.6 622.2,173.5 622.3,177.2 623.1,179.9 623.0,183.0 623.1,186.6 623.5,189.9 624.2,193.2 624.5,196.8 624.8,199.5 625.3,202.9 625.8,206.4 626.2,209.0 627.0,212.8 626.3,216.5 626.9,220.0 627.5,223.5 628.0,226.8 628.4,230.2 628.7,234.4 628.5,237.6 629.3,240.7 629.9,244.3 629.9,247.4 631.3,251.7 631.7,253.7 632.8,257.9 633.0,261.5 633.4,264.7 632.7,267.7 633.3,270.6 633.4,273.8 633.4,278.1 633.8,280.3 636.9,279.3 637.9,281.7 638.7,285.6 638.5,288.6 639.1,291.1 639.7,294.1 640.5,296.8 641.8,300.0 642.8,303.3 643.8,306.2 643.8,309.7 644.4,311.8 644.9,315.4 645.7,318.3 646.6,321.7 647.9,324.6 648.4,326.9 649.1,330.6 650.2,333.3 650.6,335.6 651.7,339.0 652.6,341.8 653.4,345.3 654.3,348.3 656.1,351.5 656.9,354.5 658.6,357.4 660.1,360.5 661.9,364.2 663.0,366.2 663.8,370.0 664.7,372.9 666.1,376.0 667.9,379.3 668.9,381.7 669.1,383.9 670.7,387.2 672.1,390.1 672.8,393.4 674.3,396.5 676.7,399.8 677.6,402.8 679.3,405.5 680.1,408.7 682.3,411.6 683.1,414.2 684.5,417.2 688.0,420.0 689.8,422.8 690.7,425.9 692.7,427.7 693.1,431.0 694.8,433.8 696.5,436.6 698.0,439.1 700.0,442.3 701.2,444.7 703.4,447.6 706.1,450.6 706.2,452.2 707.9,455.7 709.9,457.6 712.3,460.2 713.8,463.1 716.1,466.7 717.8,469.4 719.8,472.6 722.4,475.2 725.3,480.0 727.5,483.7 729.6,487.3 731.0,490.6 732.5,494.2 734.2,497.0 736.7,499.5 740.5,502.1 743.2,504.2 744.6,507.2 746.4,510.6 747.6,513.7 749.4,516.7 751.7,518.6 755.1,521.2 757.5,522.9 757.4,519.9 758.4,516.7 758.8,520.1 759.5,522.5 760.1,525.9 760.2,529.2 762.9,531.4 765.7,534.3 769.1,537.2 771.2,538.6 773.5,542.4 776.9,543.9 779.7,546.0 781.6,548.9 782.9,552.3 784.3,556.0 787.0,555.1 788.1,558.2 789.2,560.2 791.0,563.6 792.4,565.9 794.4,569.0 797.1,571.1 799.5,573.9 802.2,573.0 803.3,576.1 805.9,578.5 807.0,581.8 808.5,585.5 810.2,588.1 811.2,590.9 814.0,594.9 815.9,597.6 817.3,600.2 819.2,603.4 821.9,602.5 823.3,605.4 824.6,607.9 829.0,611.5 830.8,610.2" stroke="#fae83d"/>
<path d="M197.0 163.9 L859.5 647.3" stroke="#3a3a3a" stroke-width="1.44" stroke-dasharray="5.3 2.3"/>
</g>
<rect x="197.0" y="80.5" width="662.5" height="607.5" fill="none" stroke="#cccccc" stroke-width="1.7"/>
<rect x="211.0" y="622.1" width="336.4" height="51.9" rx="5" ry="5" fill="#fff" fill-opacity="0.8" stroke="#cccccc" stroke-width="1.4"/>
<path d="M222.5 646.5 H281" stroke="#3a3a3a" stroke-width="1.44" stroke-dasharray="5.3 2.3" fill="none"/>
<text class="m" y="655.4" font-size="28"><tspan x="303.1" font-style="italic">L</tspan><tspan x="324.9">=</tspan><tspan x="354.7">2.57</tspan><tspan x="422.4">·</tspan><tspan x="437.3" font-style="italic">C</tspan><tspan x="460.1" y="644.2" font-size="20.2">−0.048</tspan></text>
<text transform="translate(184.30 90.80) scale(1 1.045)" font-size="28.87" text-anchor="end">6</text>
<text transform="translate(184.30 170.66) scale(1 1.045)" font-size="28.87" text-anchor="end">5</text>
<text transform="translate(184.30 268.39) scale(1 1.045)" font-size="28.87" text-anchor="end">4</text>
<text transform="translate(184.30 394.40) scale(1 1.045)" font-size="28.87" text-anchor="end">3</text>
<text transform="translate(184.30 571.99) scale(1 1.045)" font-size="28.87" text-anchor="end">2</text>
<text transform="translate(184.30 698.00) scale(1 1.045)" font-size="28.87" text-anchor="end">1.5</text>
<text transform="translate(167.73 731.30) scale(1 1.045)" font-size="28.87" text-anchor="start">10</text><text transform="translate(200.34 711.20) scale(1 1.045)" font-size="20.20" text-anchor="start">−6</text>
<text transform="translate(300.23 731.30) scale(1 1.045)" font-size="28.87" text-anchor="start">10</text><text transform="translate(332.84 711.20) scale(1 1.045)" font-size="20.20" text-anchor="start">−4</text>
<text transform="translate(432.73 731.30) scale(1 1.045)" font-size="28.87" text-anchor="start">10</text><text transform="translate(465.34 711.20) scale(1 1.045)" font-size="20.20" text-anchor="start">−2</text>
<text transform="translate(571.13 731.30) scale(1 1.045)" font-size="28.87" text-anchor="start">10</text><text transform="translate(603.74 711.20) scale(1 1.045)" font-size="20.20" text-anchor="start">0</text>
<text transform="translate(703.63 731.30) scale(1 1.045)" font-size="28.87" text-anchor="start">10</text><text transform="translate(736.24 711.20) scale(1 1.045)" font-size="20.20" text-anchor="start">2</text>
<text transform="translate(836.13 731.30) scale(1 1.045)" font-size="28.87" text-anchor="start">10</text><text transform="translate(868.74 711.20) scale(1 1.045)" font-size="20.20" text-anchor="start">4</text>
<text transform="translate(528.25 765.30) scale(1 1.045)" font-size="28.87" text-anchor="middle">Compute (PetaFLOP/s-days)</text>
<text transform="translate(131.9 384.1) rotate(-90) scale(1 1.045)" font-size="28.87" text-anchor="middle">Validation Loss</text>
<rect x="901" y="80.3" width="30.3" height="607.4" fill="url(#cb)" stroke="#d0d0d0" stroke-width="1.3"/>
<text transform="translate(944.10 702.40) scale(1 1.045)" font-size="28.87" text-anchor="start">10</text><text transform="translate(976.70 682.30) scale(1 1.045)" font-size="20.20" text-anchor="start">5</text>
<text transform="translate(944.10 605.05) scale(1 1.045)" font-size="28.87" text-anchor="start">10</text><text transform="translate(976.70 584.95) scale(1 1.045)" font-size="20.20" text-anchor="start">6</text>
<text transform="translate(944.10 507.70) scale(1 1.045)" font-size="28.87" text-anchor="start">10</text><text transform="translate(976.70 487.60) scale(1 1.045)" font-size="20.20" text-anchor="start">7</text>
<text transform="translate(944.10 410.35) scale(1 1.045)" font-size="28.87" text-anchor="start">10</text><text transform="translate(976.70 390.25) scale(1 1.045)" font-size="20.20" text-anchor="start">8</text>
<text transform="translate(944.10 313.00) scale(1 1.045)" font-size="28.87" text-anchor="start">10</text><text transform="translate(976.70 292.90) scale(1 1.045)" font-size="20.20" text-anchor="start">9</text>
<text transform="translate(944.10 215.65) scale(1 1.045)" font-size="28.87" text-anchor="start">10</text><text transform="translate(976.70 195.55) scale(1 1.045)" font-size="20.20" text-anchor="start">10</text>
<text transform="translate(944.10 118.30) scale(1 1.045)" font-size="28.87" text-anchor="start">10</text><text transform="translate(976.70 98.20) scale(1 1.045)" font-size="20.20" text-anchor="start">11</text>
<path d="M932 687.7 h5.8 M932 590.4 h5.8 M932 493.0 h5.8 M932 395.6 h5.8 M932 298.3 h5.8 M932 200.9 h5.8 M932 103.6 h5.8" stroke="#999999" stroke-width="1.35" fill="none"/>
<text transform="translate(1028.9 383.7) rotate(-90) scale(1 1.045)" font-size="28.87" text-anchor="middle">Parameters</text>
</svg></body></html>
